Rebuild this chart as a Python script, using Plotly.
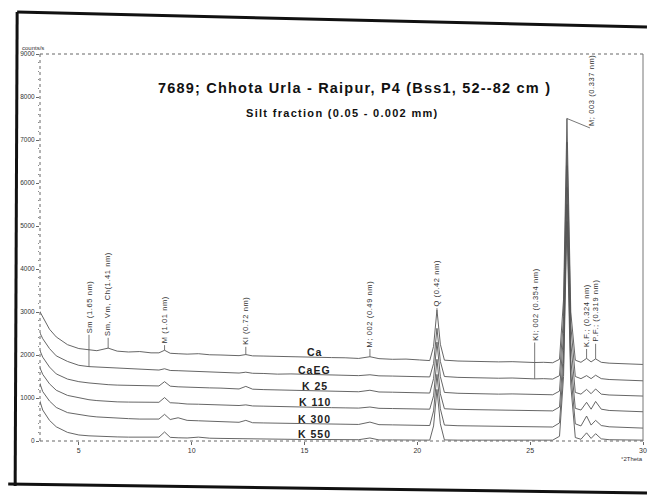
import plotly.graph_objects as go

# ---------------- data ----------------
two_theta = [3.2, 3.4, 3.7, 4.0, 4.5, 5.0, 5.45, 5.8, 6.3, 6.7, 7.2, 7.7, 8.2, 8.55, 8.8, 9.05,
             9.4, 9.8, 10.3, 10.8, 11.3, 11.8, 12.1, 12.4, 12.7, 13.2, 13.8, 14.4, 15.0, 15.6,
             16.2, 16.8, 17.4, 17.9, 18.3, 18.9, 19.5, 20.1, 20.55, 20.72, 20.87, 21.02, 21.2,
             21.8, 22.4, 23.0, 23.6, 24.2, 24.8, 25.2, 25.6, 26.0, 26.3, 26.48, 26.63, 26.8,
             27.0, 27.25, 27.5, 27.7, 27.9, 28.15, 28.5, 29.0, 29.5, 30.0]

ca = [3080, 2880, 2600, 2420, 2240, 2150, 2120, 2100, 2160, 2090, 2070, 2080, 2050, 2050, 2110, 2040,
      2030, 2020, 2030, 2005, 2000, 1990, 1985, 2010, 1980, 1975, 1965, 1970, 1955, 1950,
      1940, 1935, 1920, 1960, 1915, 1900, 1905, 1885, 1870, 2200, 3050, 2250, 1880,
      1860, 1850, 1855, 1840, 1845, 1830, 1825, 1830, 1820, 1900, 3300, 7500, 3000,
      1880, 1830, 1920, 1840, 1910, 1830, 1810, 1800, 1795, 1780]

caeg = [2600, 2380, 2150, 1980, 1850, 1760, 1730, 1720, 1700, 1690, 1680, 1670, 1660, 1650, 1680, 1640,
        1635, 1625, 1630, 1610, 1600, 1590, 1580, 1600, 1575, 1570, 1555, 1560, 1550, 1540,
        1545, 1530, 1520, 1540, 1515, 1510, 1505, 1500, 1490, 1800, 2620, 1850, 1500,
        1480, 1470, 1475, 1460, 1465, 1450, 1445, 1450, 1440, 1520, 2900, 6950, 2700,
        1500, 1450, 1520, 1450, 1530, 1450, 1430, 1420, 1410, 1400]

k25 = [2200, 1950, 1720, 1560, 1440, 1380, 1350, 1330, 1310, 1300, 1290, 1280, 1270, 1280, 1380, 1275,
       1260, 1250, 1245, 1235, 1230, 1220, 1210, 1270, 1205, 1195, 1190, 1185, 1175, 1165,
       1160, 1150, 1145, 1180, 1140, 1135, 1130, 1120, 1115, 1450, 2300, 1500, 1130,
       1110, 1100, 1105, 1090, 1095, 1085, 1080, 1085, 1075, 1160, 2500, 6400, 2300,
       1130, 1090, 1200, 1100, 1210, 1090, 1070, 1060, 1055, 1045]

k110 = [1800, 1550, 1330, 1180, 1060, 1000, 960, 940, 920, 910, 905, 900, 890, 900, 1010, 890,
        880, 860, 855, 850, 840, 830, 825, 840, 815, 810, 800, 795, 790, 780,
        775, 770, 765, 790, 760, 755, 750, 745, 740, 1050, 1900, 1100, 750,
        735, 730, 725, 720, 720, 710, 705, 710, 700, 790, 2100, 5900, 1900,
        760, 720, 900, 740, 920, 740, 710, 700, 690, 680]

k300 = [1450, 1150, 930, 780, 660, 610, 580, 560, 540, 530, 520, 510, 500, 510, 620, 500,
        540, 480, 470, 460, 450, 440, 435, 480, 425, 420, 415, 410, 405, 400,
        395, 390, 385, 440, 380, 375, 370, 365, 360, 700, 1550, 750, 370,
        355, 350, 345, 340, 340, 335, 340, 330, 325, 420, 1800, 5500, 1600,
        400, 350, 580, 370, 480, 360, 330, 320, 310, 300]

k550 = [1050, 720, 480, 330, 200, 140, 120, 110, 100, 95, 90, 85, 80, 90, 210, 85,
        75, 70, 90, 65, 60, 55, 50, 50, 45, 45, 40, 40, 35, 35,
        30, 30, 30, 70, 25, 25, 20, 20, 20, 350, 1200, 400, 25,
        20, 20, 25, 20, 20, 20, 30, 20, 20, 110, 1500, 5100, 1300,
        80, 40, 190, 60, 170, 50, 30, 25, 20, 20]

series_names = ["Ca", "CaEG", "K 25", "K 110", "K 300", "K 550"]
series_values = [ca, caeg, k25, k110, k300, k550]

x_ticks = [5, 10, 15, 20, 25, 30]
y_ticks = [0, 1000, 2000, 3000, 4000, 5000, 6000, 7000, 8000, 9000]

# peak labels: text, 2theta, index of the trace the leader points to
peak_texts = ["Sm (1.65 nm)", "Sm, Vm, Ch(1.41 nm)", "M (1.01 nm)", "Kl (0.72 nm)",
              "M; 002 (0.49 nm)", "Q (0.42 nm)", "Kl; 002 (0.354 nm)",
              "K.F.; (0.324 nm)", "P.F.; (0.319 nm)"]
peak_pos = [5.45, 6.3, 8.8, 12.4, 17.9, 20.87, 25.2, 27.5, 27.9]
peak_trace = [1, 0, 0, 0, 0, 0, 1, 0, 0]

main_peak_text = "M; 003 (0.337 nm)"
main_peak_pos = 26.63

title_text = "7689; Chhota Urla - Raipur, P4 (Bss1, 52--82 cm )"
subtitle_text = "Silt fraction (0.05 - 0.002 mm)"

# ---------------- layout geometry ----------------
W, H = 651, 495
ML, MR, MT, MB = 40, 4, 54, 54
PW, PH = W - ML - MR, H - MT - MB


def paper(px, py):
    return (px - ML) / PW, (H - MB - py) / PH


def spaced(t, ls):
    return '<span style="letter-spacing:%spx">%s</span>' % (ls, t)


FONT = "Liberation Sans, Arial, sans-serif"
LINE_COL = "#555555"

fig = go.Figure()
for name, ys in zip(series_names, series_values):
    fig.add_trace(go.Scatter(x=two_theta, y=ys, mode="lines", name=name,
                             line=dict(color=LINE_COL, width=0.9), showlegend=False,
                             hoverinfo="x+y+name"))

shapes = []
annotations = []

# label bottoms (counts) for the vertical peak labels
label_bottom = [2470, 2400, 2230, 2190, 2140, 3090, 2290, 2140, 2260]
for txt, pos, ti, lb in zip(peak_texts, peak_pos, peak_trace, label_bottom):
    yv = series_values[ti][two_theta.index(pos)]
    shapes.append(dict(type="line", xref="x", yref="y", x0=pos, x1=pos, y0=yv, y1=lb,
                       line=dict(color="#555", width=0.8)))
    annotations.append(dict(x=pos, y=lb, xref="x", yref="y", text=spaced(txt, 0.6), textangle=-90,
                            showarrow=False, xanchor="center", yanchor="bottom",
                            font=dict(family=FONT, size=7.5, color="#333")))

# main 26.6 peak label with diagonal leader
top_main = ca[two_theta.index(main_peak_pos)]
shapes.append(dict(type="line", xref="x", yref="y", x0=main_peak_pos, x1=27.65,
                   y0=top_main, y1=7280, line=dict(color="#555", width=0.8)))
annotations.append(dict(x=27.72, y=7280, xref="x", yref="y", text=spaced(main_peak_text, 0.6),
                        textangle=-90, showarrow=False, xanchor="center", yanchor="bottom",
                        font=dict(family=FONT, size=7.5, color="#333")))

# series name labels sitting on their traces
name_x = 15.45
for name, ys in zip(series_names, series_values):
    yv = ys[two_theta.index(15.6)]
    annotations.append(dict(x=name_x, y=yv, xref="x", yref="y", text=spaced("<b>%s</b>" % name, 1),
                            showarrow=False, xanchor="center", yanchor="bottom", yshift=-3,
                            font=dict(family=FONT, size=10.5, color="#222")))

# titles
tx, ty = paper(357, 88)
annotations.append(dict(x=tx, y=ty, xref="paper", yref="paper", showarrow=False,
                        text=spaced("<b>%s</b>" % title_text, 1.2),
                        xanchor="center", yanchor="middle",
                        font=dict(family=FONT, size=14.5, color="#111")))
sx, sy = paper(345, 113)
annotations.append(dict(x=sx, y=sy, xref="paper", yref="paper", showarrow=False,
                        text=spaced("<b>%s</b>" % subtitle_text, 1.3),
                        xanchor="center", yanchor="middle",
                        font=dict(family=FONT, size=11, color="#111")))

# axis captions
cx, cy = paper(33, 48)
annotations.append(dict(x=cx, y=cy, xref="paper", yref="paper", showarrow=False,
                        text="counts/s", xanchor="center", yanchor="middle",
                        font=dict(family=FONT, size=6, color="#333")))
ax_, ay_ = paper(636, 459)
annotations.append(dict(x=ax_, y=ay_, xref="paper", yref="paper", showarrow=False,
                        text="°2Theta", xanchor="center", yanchor="middle",
                        font=dict(family=FONT, size=6, color="#333")))

# plot frame (dotted like the scan)
dot = dict(color="#666", width=1, dash="dot")
shapes += [
    dict(type="line", xref="paper", yref="paper", x0=0, x1=0, y0=0, y1=1, line=dot),
    dict(type="line", xref="paper", yref="paper", x0=0, x1=1, y0=0, y1=0, line=dot),
    dict(type="line", xref="paper", yref="paper", x0=0, x1=1, y0=1, y1=1, line=dot),
    dict(type="line", xref="paper", yref="paper", x0=1, x1=1, y0=0, y1=1,
         line=dict(color="#777", width=1)),
]

# black page border of the scan
for (p0, p1) in [((17, 12), (15, 486)), ((17, 12), (651, 27)), ((8, 484), (651, 493))]:
    x0, y0 = paper(*p0)
    x1, y1 = paper(*p1)
    shapes.append(dict(type="line", xref="paper", yref="paper", x0=x0, y0=y0, x1=x1, y1=y1,
                       line=dict(color="#111", width=3)))

fig.update_layout(
    width=W, height=H,
    margin=dict(l=ML, r=MR, t=MT, b=MB),
    paper_bgcolor="white", plot_bgcolor="white",
    shapes=shapes, annotations=annotations,
    xaxis=dict(range=[3.28, 30], tickvals=x_ticks, ticks="outside", ticklen=3, tickcolor="#666",
               showgrid=False, zeroline=False, showline=False,
               tickfont=dict(family=FONT, size=7, color="#333")),
    yaxis=dict(range=[0, 9000], tickvals=y_ticks, ticks="outside", ticklen=3, tickcolor="#666",
               showgrid=False, zeroline=False, showline=False,
               minor=dict(dtick=200, ticks="outside", ticklen=1.5, tickcolor="#888"),
               tickfont=dict(family=FONT, size=6.5, color="#333")),
)

fig.write_html("out.html")
